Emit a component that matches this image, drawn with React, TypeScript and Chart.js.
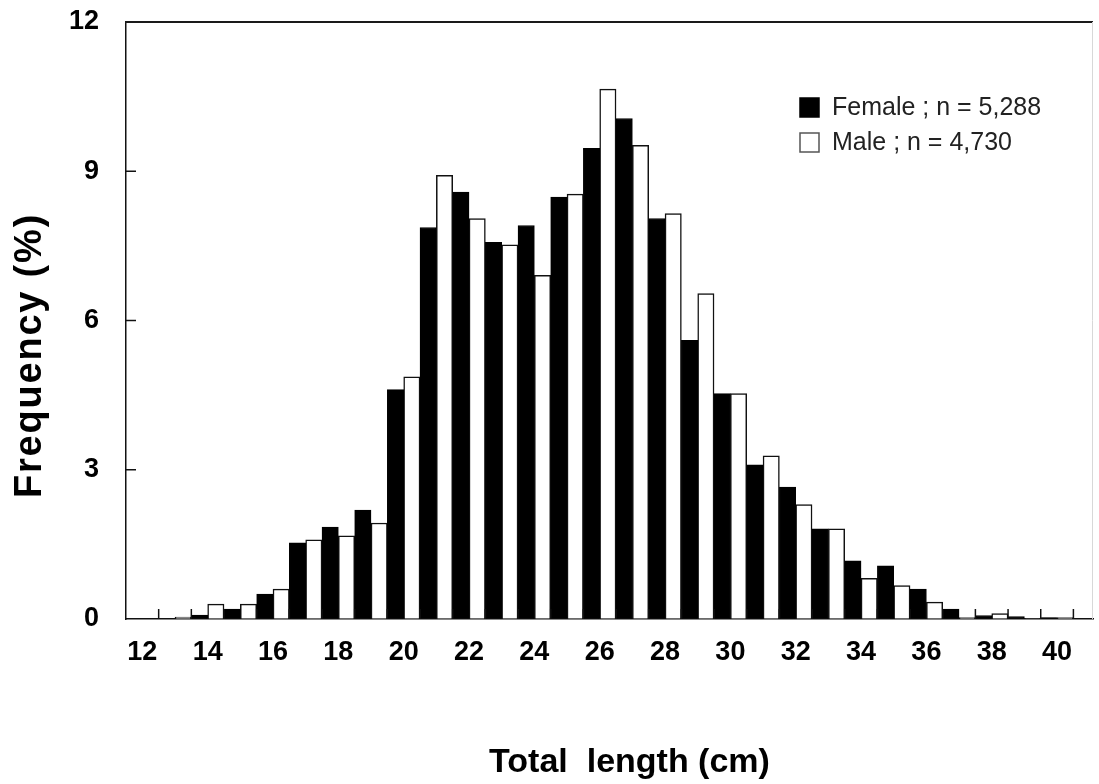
import React, { useEffect, useRef } from "react";
import { Chart, registerables } from "chart.js";

Chart.register(...registerables);

// Total length classes (cm)
const categories = [12, 13, 14, 15, 16, 17, 18, 19, 20, 21, 22, 23, 24, 25, 26, 27, 28, 29, 30, 31, 32, 33, 34, 35, 36, 37, 38, 39, 40];
// Frequency (%)
const female = [0, 0, 0.08, 0.2, 0.5, 1.53, 1.85, 2.19, 4.61, 7.87, 8.58, 7.57, 7.91, 8.48, 9.46, 10.06, 8.05, 5.6, 4.53, 3.1, 2.65, 1.81, 1.17, 1.07, 0.6, 0.2, 0.07, 0.05, 0.03];
const male = [0, 0.04, 0.3, 0.3, 0.6, 1.59, 1.67, 1.93, 4.87, 8.92, 8.05, 7.52, 6.91, 8.54, 10.65, 9.52, 8.15, 6.54, 4.53, 3.28, 2.3, 1.81, 0.82, 0.67, 0.34, 0.03, 0.11, 0.01, 0.03];

const xTickLabels = [12, 14, 16, 18, 20, 22, 24, 26, 28, 30, 32, 34, 36, 38, 40];
const yTickLabels = [0, 3, 6, 9, 12];
const legendLabels = ["Female ; n = 5,288", "Male ; n = 4,730"];
const xTitle = "Total  length (cm)";
const yTitle = "Frequency (%)";

const FONT = '"Liberation Sans", Arial, Helvetica, sans-serif';

export default function App() {
  const ref = useRef<HTMLCanvasElement>(null);

  useEffect(() => {
    const canvas = ref.current;
    if (!canvas) return;

    const decorations = {
      id: "decorations",
      afterDatasetsDraw(chart: any) {
        const { ctx, chartArea } = chart;
        const { left, right, top, bottom } = chartArea;
        const xs = chart.scales.x;
        const ys = chart.scales.y;
        ctx.save();
        // top border
        ctx.strokeStyle = "#1a1a1a";
        ctx.lineWidth = 2;
        ctx.beginPath();
        ctx.moveTo(left - 1, top);
        ctx.lineTo(right, top);
        ctx.stroke();
        // faint right border
        ctx.strokeStyle = "#d8d8d8";
        ctx.lineWidth = 1;
        ctx.beginPath();
        ctx.moveTo(right - 0.5, top);
        ctx.lineTo(right - 0.5, bottom);
        ctx.stroke();
        // inward tick marks on x axis (category boundaries)
        ctx.strokeStyle = "#111";
        ctx.lineWidth = 1.5;
        const bounds = categories.slice(1).map((c) => c - 0.5).concat([categories[categories.length - 1] + 0.5]);
        bounds.forEach((b) => {
          const px = xs.getPixelForValue(b);
          ctx.beginPath();
          ctx.moveTo(px, bottom);
          ctx.lineTo(px, bottom - 10);
          ctx.stroke();
        });
        // inward tick marks on y axis
        yTickLabels.slice(1, -1).forEach((v) => {
          const py = ys.getPixelForValue(v);
          ctx.beginPath();
          ctx.moveTo(left, py);
          ctx.lineTo(left + 10, py);
          ctx.stroke();
        });

        // legend
        const colors = [
          { fill: "#000", stroke: "#000" },
          { fill: "#fff", stroke: "#555" },
        ];
        const lx = left + 674;
        const rows = [top + 85, top + 120];
        ctx.font = `25px ${FONT}`;
        ctx.textBaseline = "middle";
        ctx.textAlign = "left";
        legendLabels.forEach((lab, i) => {
          const cy = rows[i];
          ctx.fillStyle = colors[i].fill;
          ctx.fillRect(lx, cy - 9, 19, 19);
          ctx.strokeStyle = colors[i].stroke;
          ctx.lineWidth = 1.5;
          ctx.strokeRect(lx, cy - 9, 19, 19);
          ctx.fillStyle = "#222";
          ctx.fillText(lab, lx + 32, cy + 1);
        });

        // axis titles
        ctx.fillStyle = "#000";
        ctx.font = `bold 34px ${FONT}`;
        ctx.textAlign = "center";
        ctx.textBaseline = "alphabetic";
        ctx.fillText(xTitle, (left + right) / 2 + 20, bottom + 153);
        ctx.save();
        ctx.font = `bold 38px ${FONT}`;
        try {
          (ctx as any).letterSpacing = "1.8px";
        } catch (e) {}
        ctx.translate(41, (top + bottom) / 2 + 35);
        ctx.rotate(-Math.PI / 2);
        ctx.fillText(yTitle, 0, 0);
        ctx.restore();
        ctx.restore();
      },
    };

    const chart = new Chart(canvas, {
      type: "bar",
      data: {
        datasets: [
          {
            label: legendLabels[0],
            data: categories.map((c, i) => ({ x: c, y: female[i] })),
            backgroundColor: "#000",
            borderColor: "#000",
            borderWidth: 1,
            categoryPercentage: 1,
            barPercentage: 1,
          },
          {
            label: legendLabels[1],
            data: categories.map((c, i) => ({ x: c, y: male[i] })),
            backgroundColor: "#fff",
            borderColor: "#111",
            borderWidth: 1.5,
            categoryPercentage: 1,
            barPercentage: 1,
          },
        ],
      },
      options: {
        responsive: false,
        animation: false,
        layout: { padding: { top: 22, right: 6, left: 0, bottom: 0 } },
        plugins: {
          legend: { display: false },
          tooltip: { enabled: false },
        },
        scales: {
          x: {
            type: "linear",
            min: 11.5,
            max: 41.1,
            offset: false,
            grid: { display: true, drawOnChartArea: false, drawTicks: false, offset: false },
            border: { display: true, color: "#111", width: 1.5 },
            afterBuildTicks: (s: any) => {
              s.ticks = xTickLabels.map((v) => ({ value: v }));
            },
            afterFit: (s: any) => {
              s.height = 165;
              s.paddingLeft = 0;
              s.paddingRight = 0;
            },
            ticks: {
              color: "#000",
              font: { family: FONT, size: 27, weight: "bold" },
              padding: 17,
              autoSkip: false,
              maxRotation: 0,
              callback: (v: any) => String(v),
            },
          },
          y: {
            min: 0,
            max: 12,
            grid: { display: true, drawOnChartArea: false, drawTicks: false },
            border: { display: true, color: "#111", width: 1.5 },
            afterBuildTicks: (s: any) => {
              s.ticks = yTickLabels.map((v) => ({ value: v }));
            },
            afterFit: (s: any) => {
              s.width = 126;
              s.paddingTop = 0;
              s.paddingBottom = 0;
            },
            ticks: {
              color: "#000",
              font: { family: FONT, size: 27, weight: "bold" },
              padding: 27,
              callback: (v: any) => String(v),
            },
          },
        },
      } as any,
      plugins: [decorations],
    });

    return () => chart.destroy();
  }, []);

  return (
    <div style={{ position: "absolute", left: 0, top: 0, width: 1099, height: 784, background: "#fff" }}>
      <canvas ref={ref} width={1099} height={784} style={{ display: "block" }} />
    </div>
  );
}
